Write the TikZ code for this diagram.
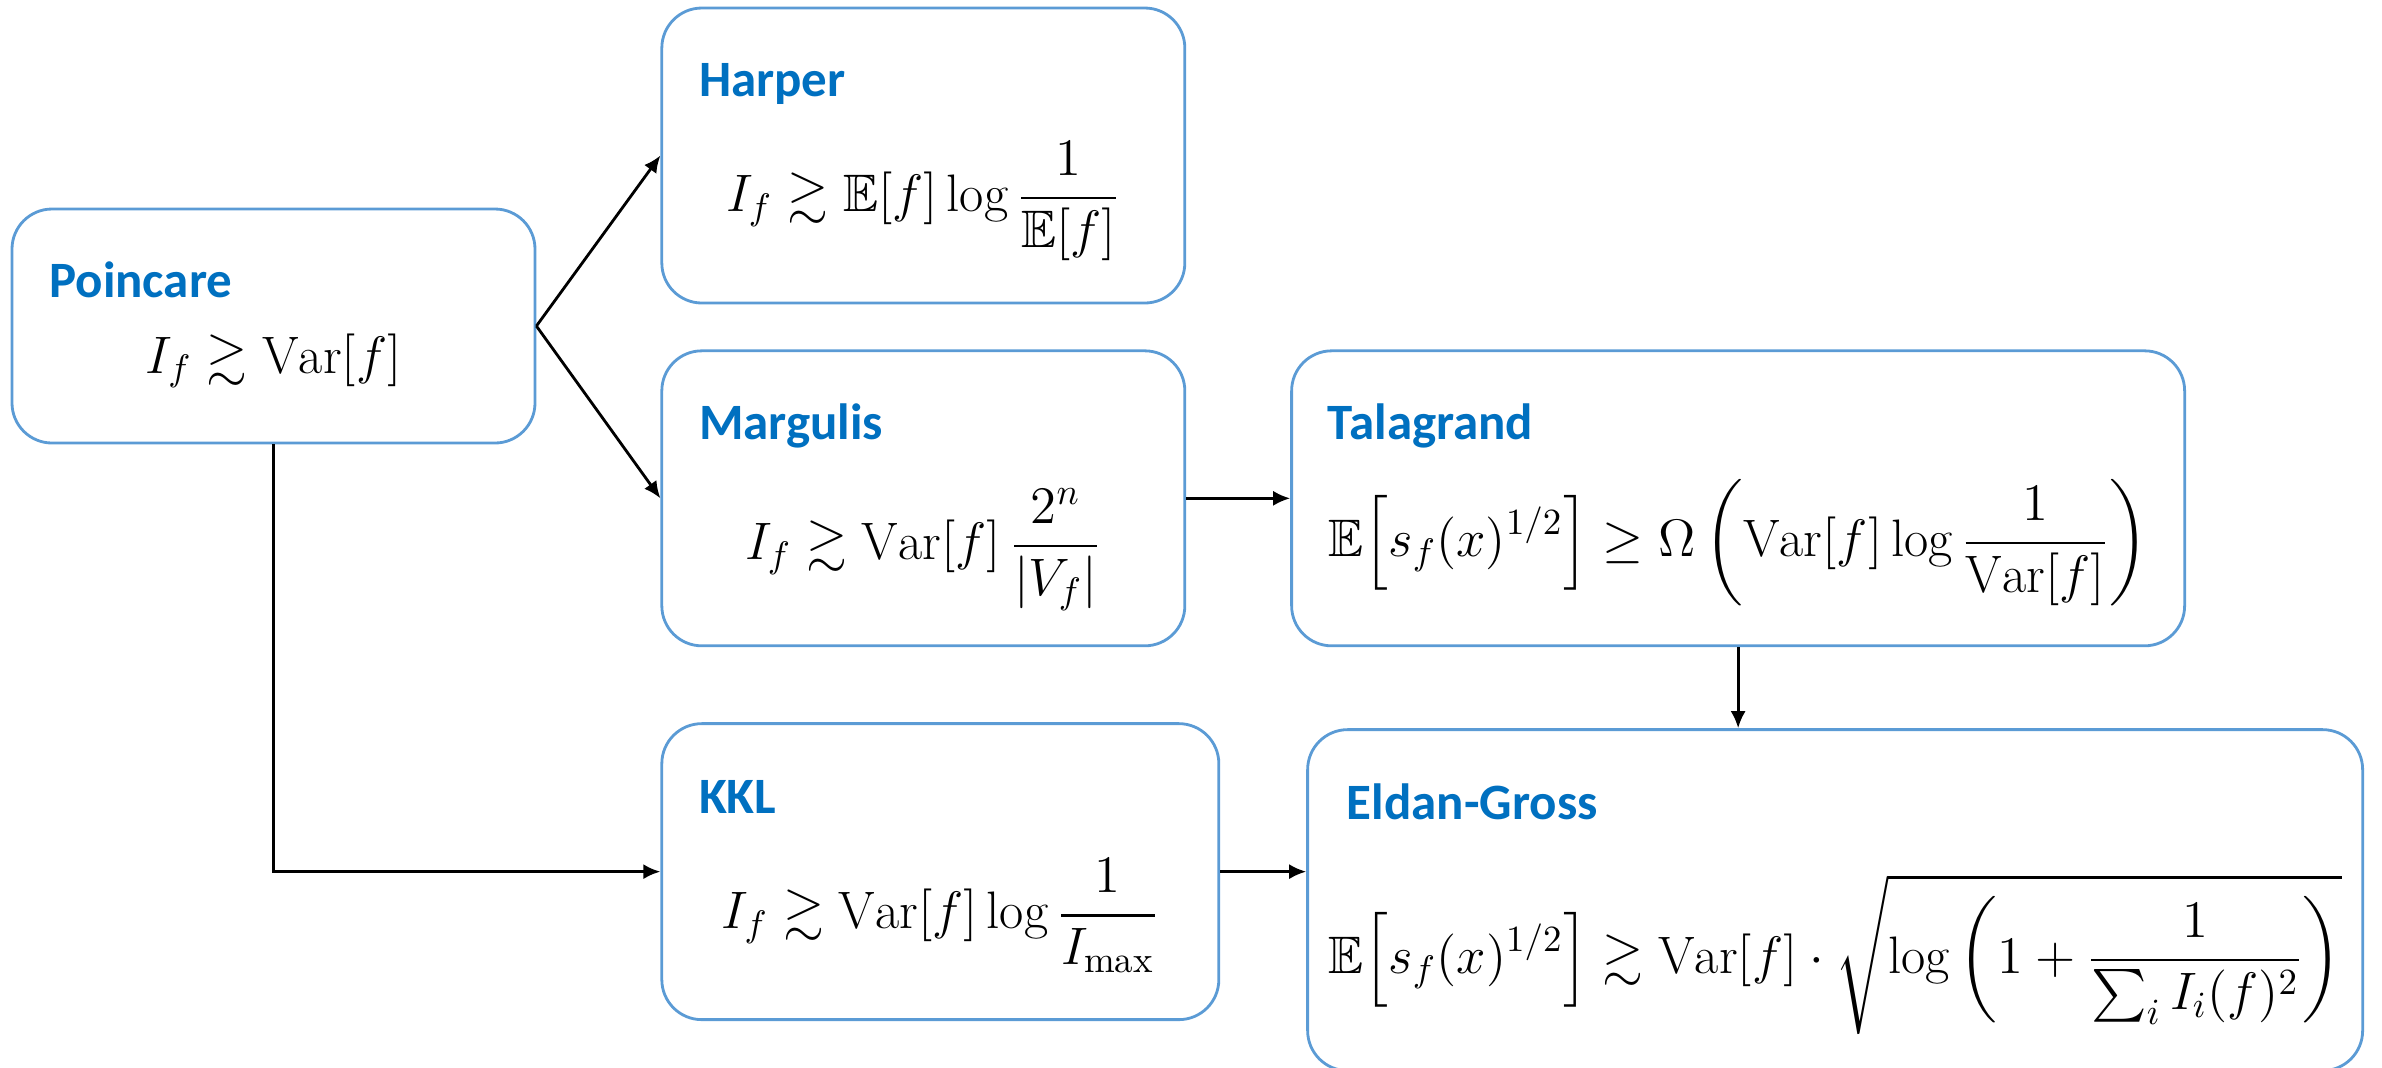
\documentclass[tikz,border=0pt]{standalone}
\usepackage{fix-cm}
\usepackage{amsmath,amssymb}
\usepackage{fontspec}
\newfontfamily\calibrifont{Carlito}
\usetikzlibrary{arrows.meta,positioning}
\definecolor{boxedge}{RGB}{91,155,213}
\definecolor{titleblue}{RGB}{0,112,192}
\tikzset{
  thmbox/.style={rectangle,rounded corners=0.4cm,draw=boxedge,line width=0.8pt,fill=white,minimum width=5.23cm,minimum height=2.95cm,inner sep=0pt},
  thmtitle/.style={anchor=base west,inner sep=0pt,text=titleblue,font=\fontsize{14.5}{17}\selectfont\calibrifont\bfseries},
  thmformula/.style={anchor=base,inner sep=0pt,font=\fontsize{15}{18}\selectfont},
  arr/.style={->,>={Latex[length=1.7mm,width=1.5mm]},line width=0.8pt,color=black}
}

\begin{document}
\begin{tikzpicture}
  \useasboundingbox (0,0) rectangle (23.82,-10.67);
  \node[thmbox,minimum height=2.34cm] (pc) at (2.735,-3.26) {};
  \node[thmbox,right=1.24cm of pc,yshift=1.705cm] (harper) {};
  \node[thmbox,below=0.45cm of harper] (marg) {};
  \node[thmbox,right=1.04cm of marg,minimum width=8.93cm] (tal) {};
  \node[thmbox,below=0.75cm of marg.south west,anchor=north west,minimum width=5.57cm,minimum height=2.96cm] (kkl) {};
  \node[thmbox,right=0.86cm of kkl.north east,anchor=north west,yshift=-0.06cm,minimum width=10.55cm,minimum height=3.41cm] (eg) {};

  \node[thmtitle] (pcT) at ([xshift=0.38cm,yshift=-0.9cm]pc.north west) {Poincare};
  \node[thmtitle] (harperT) at ([xshift=0.38cm,yshift=-0.9cm]harper.north west) {Harper};
  \node[thmtitle] (margT) at ([xshift=0.38cm,yshift=-0.9cm]marg.north west) {Margulis};
  \node[thmtitle] (talT) at ([xshift=0.37cm,yshift=-0.9cm]tal.north west) {Talagrand};
  \node[thmtitle] (kklT) at ([xshift=0.38cm,yshift=-0.91cm]kkl.north west) {KKL};
  \node[thmtitle] (egT) at ([xshift=0.4cm,yshift=-0.91cm]eg.north west) {Eldan-Gross};

  \node[thmformula] (pcF) at ([yshift=-0.47cm]pc.center) {$\displaystyle I_f \gtrsim \mathrm{Var}[f]$};
  \node[thmformula] (harperF) at ([yshift=-0.56cm]harper.center) {$\displaystyle I_f \gtrsim \mathbb{E}[f]\log\frac{1}{\mathbb{E}[f]}$};
  \node[thmformula] (margF) at ([yshift=-0.61cm]marg.center) {$\displaystyle I_f \gtrsim \mathrm{Var}[f]\,\frac{2^n}{\left|V_f\right|}$};
  \node[thmformula] (talF) at ([yshift=-0.58cm]tal.center) {$\displaystyle \mathbb{E}\Bigl[s_f(x)^{1/2}\Bigr] \geq \Omega\left(\mathrm{Var}[f]\log\frac{1}{\mathrm{Var}[f]}\right)$};
  \node[thmformula] (kklF) at ([yshift=-0.57cm]kkl.center) {$\displaystyle I_f \gtrsim \mathrm{Var}[f]\log\frac{1}{I_{\max}}$};
  \node[thmformula] (egF) at ([yshift=-0.73cm]eg.center) {$\displaystyle \mathbb{E}\Bigl[s_f(x)^{1/2}\Bigr] \gtrsim \mathrm{Var}[f]\cdot\sqrt{\log\left(1+\frac{1}{\sum_i I_i(f)^2}\right)}$};

  \draw[arr] (pc.east) -- (harper.west);
  \draw[arr] (pc.east) -- (marg.west);
  \draw[arr] (pc.south) |- (kkl.west);
  \draw[arr] (marg.east) -- (tal.west);
  \draw[arr] (tal.south) -- (tal.south |- eg.north);
  \draw[arr] (kkl.east) -- (kkl.east -| eg.west);
\end{tikzpicture}
\end{document}
